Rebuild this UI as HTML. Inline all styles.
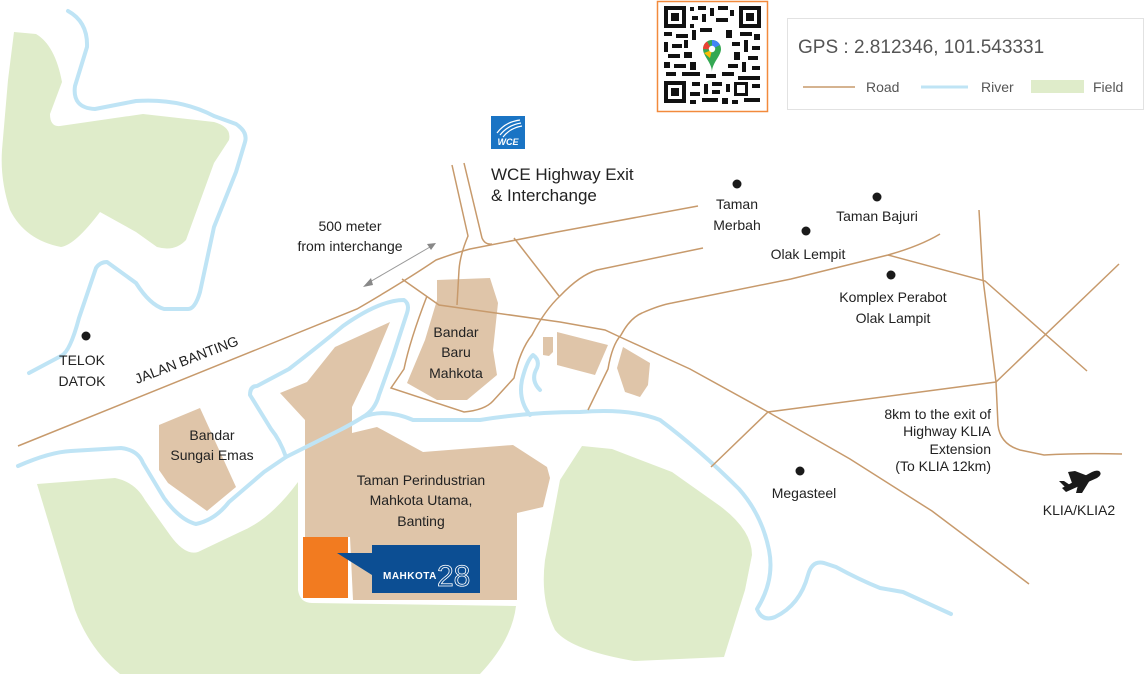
<!DOCTYPE html>
<html><head><meta charset="utf-8"><style>
html,body{margin:0;padding:0;background:#fff}
svg{display:block}
text{font-family:"Liberation Sans",sans-serif;fill:#222}
</style></head><body>
<svg width="1144" height="674" viewBox="0 0 1144 674" xmlns="http://www.w3.org/2000/svg">
<g fill="#dfecca">
<path d="M14,32 L36,34 Q55,45 62,82 L50,114 Q50,127 60,126 L143,114 L214,122 Q232,127 229,140 L214,163 L186,240 Q175,252 157,247 L136,232 L100,212 Q75,245 61,247 Q25,240 10,210 Q0,180 2,150 L8,80 Z"/>
<path d="M37,484 L115,478 Q135,482 145,500 L170,535 Q185,556 198,552 L240,532 Q270,520 298,482 L298,590 Q300,603 312,603 L516,606 Q512,640 480,674 L120,674 Q90,650 75,610 Z"/>
<path d="M582,446 L612,449 L672,472 L720,506 Q752,530 752,555 L745,590 L724,657 L634,661 Q570,650 555,630 Q540,600 545,560 L560,480 Z"/>
</g>
<g fill="#dfc5a9">
<path d="M280,393 L307,382 L335,347 L390,322 L370,370 L352,407 L352,433 L377,427 L423,452 L513,445 L547,467 L550,478 L543,507 L517,513 L517,600 L353,600 L350,537 L305,537 L305,420 Z"/>
<path d="M437,280 L490,278 L498,303 L493,350 L497,375 L467,400 L437,400 L407,383 L425,340 L437,300 Z"/>
<path d="M543,337 L553,337 L553,352 L549,356 L543,355 Z"/>
<path d="M557,332 L608,345 L595,375 L557,365 Z"/>
<path d="M623,347 L650,363 L648,385 L640,397 L625,392 L617,368 Z"/>
<path d="M159,425 L200,408 L236,487 L207,511 L168,483 L159,470 Z"/>
</g>
<rect x="303" y="537" width="45" height="61" fill="#f27b20"/>
<g fill="none" stroke="#bfe4f5" stroke-width="4" stroke-linecap="round" stroke-linejoin="round">
<path d="M68,11 Q88,22 87,47 L75,86 Q72,108 95,109 L136,101 Q180,98 214,116 L236,124 Q248,132 245,142 L236,172 L214,227 L200,292 Q195,309 188,309 L164,309 Q150,305 136,283 L107,262 Q100,262 96,268 L79,318 Q70,352 61,356 L29,373"/>
<path d="M18,466 Q50,452 71,451 L121,448 Q138,450 143,463 L164,498 Q180,520 196,524 Q215,520 229,502 L264,472 L286,457 Q300,450 310,445"/>
<path d="M286,457 Q280,440 271,429 L250,395 Q250,386 257,386 L289,369 Q320,345 343,326 Q380,300 404,300 Q410,304 407,313 L393,356 L379,395 Q375,410 363,417 Q350,425 340,430 L310,445"/>
<path d="M363,417 Q385,408 413,420 L480,420 Q530,412 580,412 Q630,408 660,420 Q700,450 739,489 Q762,515 769,550 Q775,580 757,609 Q762,622 775,617 Q800,605 808,575 Q812,560 824,563 L836,567 Q860,580 880,588 L903,592 L951,614"/>
<path d="M530,415 Q518,400 522,380 Q527,360 533,355 Q540,360 537,368 Q530,380 540,390"/>
</g>
<g fill="none" stroke="#c79a6c" stroke-width="1.5">
<path d="M18,446 L357,309 Q405,281 436,260 Q455,253 470,249 L557,232 L698,206"/>
<path d="M452,165 L468,236 Q460,255 459,270 L457,305"/>
<path d="M464,163 L482,238 Q485,245 492,244"/>
<path d="M402,279 L439,305 L560,322 L605,330 L620,337 L690,369 L768,412 L850,459 L932,511 L1029,584"/>
<path d="M514,238 L559,296"/>
<path d="M427,296 Q410,340 404,369 L391,388 L464,412 Q485,410 493,401 L514,378 Q520,350 532,335 Q545,310 560,296 Q580,275 597,270 L703,248"/>
<path d="M588,410 L608,369 Q612,345 621,335 Q630,318 642,313 Q660,305 672,303 L791,279 L888,255 Q920,246 940,234"/>
<path d="M888,255 L985,281 L1087,371"/>
<path d="M979,210 L983,279 L996,382 L998,425 Q1000,444 1020,450 L1044,455 Q1080,453 1122,454"/>
<path d="M1119,264 L996,382 L768,412 L711,467"/>
</g>
<line x1="368" y1="283" x2="430" y2="247" stroke="#999" stroke-width="1"/>
<path d="M363,287 L371,278 L373,285 Z M436,243 L427,244 L431,250 Z" fill="#888"/>
<g fill="#1a1a1a">
<circle cx="86" cy="336" r="4.5"/><circle cx="737" cy="184" r="4.5"/><circle cx="877" cy="197" r="4.5"/>
<circle cx="806" cy="231" r="4.5"/><circle cx="891" cy="275" r="4.5"/><circle cx="800" cy="471" r="4.5"/>
</g>
<g font-size="14" text-anchor="middle">
<text x="82" y="365">TELOK</text><text x="82" y="386">DATOK</text>
<text x="350" y="231">500 meter</text><text x="350" y="251">from interchange</text>
<text x="737" y="209">Taman</text><text x="737" y="230">Merbah</text>
<text x="877" y="221">Taman Bajuri</text>
<text x="808" y="259">Olak Lempit</text>
<text x="893" y="302">Komplex Perabot</text><text x="893" y="323">Olak Lampit</text>
<text x="804" y="498">Megasteel</text>
<text x="1079" y="515">KLIA/KLIA2</text>
<text x="456" y="337">Bandar</text><text x="456" y="357">Baru</text><text x="456" y="378">Mahkota</text>
<text x="212" y="440">Bandar</text><text x="212" y="460">Sungai Emas</text>
<text x="421" y="485">Taman Perindustrian</text><text x="421" y="505">Mahkota Utama,</text><text x="421" y="526">Banting</text>
</g>
<g font-size="14" text-anchor="end">
<text x="991" y="419">8km to the exit of</text><text x="991" y="436">Highway KLIA</text>
<text x="991" y="454">Extension</text><text x="991" y="471">(To KLIA 12km)</text>
</g>
<text x="137" y="384" font-size="14" transform="rotate(-21 137 384)">JALAN BANTING</text>
<rect x="491" y="116" width="34" height="33" fill="#1a74c4"/>
<path d="M497,133 Q505,122 520,120 M500,135 Q508,125 521,123 M503,137 Q510,128 522,126" stroke="#fff" stroke-width="1.2" fill="none"/>
<text x="508" y="145" font-size="9" font-weight="bold" font-style="italic" text-anchor="middle" style="fill:#fff">WCE</text>
<text x="491" y="180" font-size="17">WCE Highway Exit</text>
<text x="491" y="201" font-size="17">&amp; Interchange</text>
<path d="M337,553 L372,553 L372,575 Z" fill="#0c4e93"/>
<rect x="372" y="545" width="108" height="48" fill="#0c4e93"/>
<text x="383" y="579" font-size="10" font-weight="bold" style="fill:#fff" letter-spacing="0.5">MAHKOTA</text>
<text x="437" y="586" font-size="30" style="fill:none;stroke:#fff;stroke-width:0.8">28</text>
<!-- airplane -->
<g fill="#1a1a1a">
<path d="M1062,488 L1066,492 L1097,478 Q1103,474 1099,471 Q1096,470 1092,472 Z"/>
<path d="M1072,483 L1068,472 L1075,471 L1088,476 Z"/>
<path d="M1078,485 L1076,493 L1082,493 L1090,480 Z"/>
<path d="M1065,487 L1059,481 L1064,481 L1070,485 Z"/>
</g>
<rect x="787.5" y="18.5" width="356" height="91" fill="#fff" stroke="#e2e2e2"/>
<text x="798" y="53" font-size="19" style="fill:#555">GPS : 2.812346, 101.543331</text>
<line x1="803" y1="87" x2="855" y2="87" stroke="#c79a6c" stroke-width="1.5"/>
<text x="866" y="92" font-size="14" style="fill:#555">Road</text>
<line x1="921" y1="87" x2="968" y2="87" stroke="#bfe4f5" stroke-width="3"/>
<text x="981" y="92" font-size="14" style="fill:#555">River</text>
<rect x="1031" y="80" width="53" height="13" fill="#dfecca"/>
<text x="1093" y="92" font-size="14" style="fill:#555">Field</text>
<rect x="657.5" y="1.5" width="110" height="110" fill="#fff" stroke="#f28a3c" stroke-width="1.5"/>
<g fill="#111">
<path d="M664,6h22v22h-22z M668,10v14h14v-14z M671,13h8v8h-8z" fill-rule="evenodd"/>
<path d="M739,6h22v22h-22z M743,10v14h14v-14z M746,13h8v8h-8z" fill-rule="evenodd"/>
<path d="M664,81h22v22h-22z M668,85v14h14v-14z M671,88h8v8h-8z" fill-rule="evenodd"/>
<rect x="690" y="7" width="4" height="4"/><rect x="698" y="6" width="8" height="4"/><rect x="710" y="8" width="4" height="8"/><rect x="718" y="6" width="10" height="4"/><rect x="730" y="10" width="4" height="6"/>
<rect x="692" y="16" width="6" height="4"/><rect x="702" y="14" width="4" height="8"/><rect x="716" y="18" width="12" height="4"/><rect x="690" y="24" width="4" height="4"/>
<rect x="664" y="32" width="8" height="4"/><rect x="676" y="34" width="12" height="4"/><rect x="692" y="30" width="4" height="10"/><rect x="700" y="28" width="12" height="4"/><rect x="726" y="30" width="6" height="8"/><rect x="740" y="32" width="12" height="4"/><rect x="754" y="34" width="6" height="6"/>
<rect x="664" y="42" width="4" height="10"/><rect x="672" y="44" width="10" height="4"/><rect x="684" y="40" width="4" height="8"/><rect x="732" y="42" width="8" height="4"/><rect x="744" y="40" width="4" height="12"/><rect x="752" y="46" width="8" height="4"/>
<rect x="668" y="54" width="12" height="4"/><rect x="684" y="52" width="8" height="6"/><rect x="734" y="52" width="6" height="8"/><rect x="748" y="56" width="10" height="4"/>
<rect x="664" y="62" width="6" height="6"/><rect x="674" y="64" width="12" height="4"/><rect x="690" y="62" width="6" height="8"/><rect x="728" y="64" width="10" height="4"/><rect x="742" y="62" width="4" height="10"/><rect x="752" y="66" width="8" height="4"/>
<rect x="666" y="72" width="10" height="4"/><rect x="682" y="72" width="18" height="4"/><rect x="706" y="74" width="10" height="4"/><rect x="722" y="72" width="12" height="4"/><rect x="738" y="76" width="22" height="4"/>
<rect x="692" y="82" width="8" height="4"/><rect x="704" y="84" width="4" height="10"/><rect x="712" y="82" width="10" height="4"/><rect x="726" y="84" width="4" height="8"/><rect x="734" y="82" width="14" height="14"/><rect x="752" y="84" width="8" height="4"/>
<rect x="690" y="92" width="10" height="4"/><rect x="712" y="90" width="8" height="4"/><rect x="690" y="100" width="6" height="4"/><rect x="702" y="98" width="16" height="4"/><rect x="722" y="98" width="6" height="6"/><rect x="732" y="100" width="6" height="4"/><rect x="744" y="98" width="16" height="4"/>
</g>
<rect x="737" y="85" width="8" height="8" fill="#fff"/>
<rect x="698" y="34" width="28" height="38" fill="#fff"/>
<path d="M712,40 a9,9 0 0 1 9,9 c0,7 -9,14 -9,23 c0,-9 -9,-16 -9,-23 a9,9 0 0 1 9,-9z" fill="#34a853"/>
<path d="M703,49 a9,9 0 0 1 4,-7.5 l5,8z" fill="#ea4335"/>
<path d="M712,40 a9,9 0 0 1 8,5 l-8,4z" fill="#4285f4"/>
<path d="M704,53 l8,-3 l-2,8 z" fill="#fbbc04"/>
<circle cx="712" cy="49" r="3.2" fill="#fff"/>
</svg>
</body></html>
